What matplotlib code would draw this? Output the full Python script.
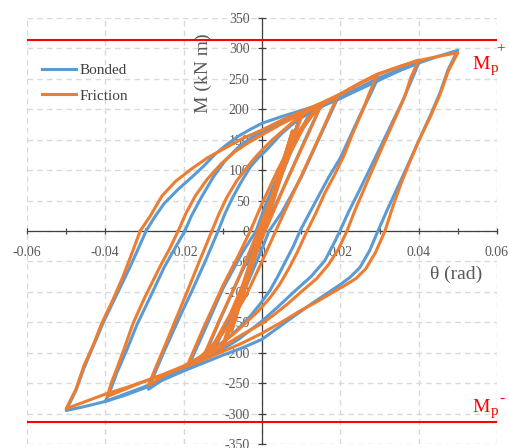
import matplotlib
matplotlib.use("Agg")
import matplotlib.pyplot as plt
from matplotlib.ticker import MultipleLocator, FuncFormatter

plt.rcParams['font.family'] = ['Liberation Serif', 'DejaVu Serif']
plt.rcParams['axes.unicode_minus'] = False

# ---------------- data (theta in rad, M in kN m) ----------------
series_names = ["Bonded", "Friction"]
series_colors = ["#5B9BD5", "#ED7D31"]
Mp_plus = 314
Mp_minus = -314

# Friction loops
F_050_t = [-0.0311, -0.0285, -0.0255, -0.0220, -0.0180, -0.0140, -0.0095, -0.0050, 0.0000, 0.0050,
           0.0100, 0.0150, 0.0200, 0.0250, 0.0300, 0.0350, 0.0400, 0.0450, 0.0500,
           0.0475, 0.0455, 0.0430, 0.0400, 0.0375, 0.0355, 0.0335, 0.0314, 0.0290, 0.0265,
           0.0240, 0.0210, 0.0175, 0.0135, 0.0095, 0.0060, 0.0030, 0.0000, -0.0050, -0.0100,
           -0.0150, -0.0200, -0.0250, -0.0300, -0.0350, -0.0400, -0.0450, -0.0500,
           -0.0475, -0.0455, -0.0430, -0.0410, -0.0380, -0.0355, -0.0333, -0.0311]
F_050_m = [0, 25, 58, 82, 102, 120, 136, 152, 166, 182,
           196, 210, 225, 243, 259, 270, 280, 287, 293,
           262, 225, 188, 148, 110, 78, 42, 0, -35, -62,
           -78, -90, -103, -118, -132, -146, -157, -168, -184, -198,
           -212, -224, -236, -247, -258, -268, -280, -292,
           -260, -222, -186, -153, -112, -75, -38, 0]
F_040_t = [-0.0214, -0.0195, -0.0170, -0.0140, -0.0105, -0.0070, -0.0035, 0.0000,
           0.0050, 0.0100, 0.0150, 0.0200, 0.0250, 0.0300, 0.0350, 0.0400,
           0.0380, 0.0365, 0.0340, 0.0310, 0.0285, 0.0260, 0.0238, 0.0217, 0.0195, 0.0170, 0.0140,
           0.0100, 0.0065, 0.0030, 0.0000, -0.0050, -0.0120, -0.0200, -0.0250, -0.0300, -0.0350, -0.0395,
           -0.0385, -0.0370, -0.0350, -0.0330, -0.0300, -0.0260, -0.0235, -0.0214]
F_040_m = [0, 28, 58, 85, 110, 130, 145, 158,
           176, 192, 208, 224, 242, 258, 270, 281,
           252, 222, 185, 142, 105, 68, 35, 0, -30, -55, -78,
           -100, -120, -138, -152, -170, -197, -222, -235, -247, -260, -272,
           -250, -225, -190, -153, -110, -58, -28, 0]
F_030_t = [-0.0128, -0.0110, -0.0090, -0.0065, -0.0040, -0.0020, 0.0000, 0.0025, 0.0050, 0.0075,
           0.0100, 0.0150, 0.0200, 0.0250, 0.0295,
           0.0275, 0.0255, 0.0230, 0.0210, 0.0185, 0.0160, 0.0138, 0.0115, 0.0090, 0.0070,
           0.0045, 0.0020, -0.0010, -0.0040, -0.0070, -0.0100, -0.0150, -0.0200, -0.0250, -0.0290,
           -0.0270, -0.0250, -0.0220, -0.0190, -0.0160, -0.0128]
F_030_m = [0, 28, 55, 82, 103, 119, 133, 149, 163, 177,
           190, 208, 225, 243, 258,
           228, 195, 158, 125, 92, 62, 30, 0, -35, -60,
           -88, -110, -132, -150, -168, -183, -204, -222, -238, -254,
           -222, -192, -145, -98, -50, 0]
F_020_t = [-0.0030, 0.0000, 0.0040, 0.0080, 0.0120, 0.0160, 0.0193,
           0.0150, 0.0100, 0.0060, 0.0035, 0.0000, -0.0040, -0.0080, -0.0120, -0.0160, -0.0190,
           -0.0150, -0.0100, -0.0060, -0.0030]
F_020_m = [0, 45, 100, 150, 188, 210, 222,
           160, 90, 35, 0, -50, -105, -150, -185, -208, -220,
           -160, -90, -40, 0]
F_015_t = [-0.0010, 0.0030, 0.0070, 0.0110, 0.0153,
           0.0110, 0.0060, 0.0008, -0.0040, -0.0080, -0.0120, -0.0150,
           -0.0110, -0.0060, -0.0010]
F_015_m = [0, 65, 125, 175, 210,
           148, 78, 0, -75, -135, -182, -207,
           -148, -78, 0]
F_010_t = [-0.0005, 0.0040, 0.0080, 0.0105, 0.0070, 0.0005, -0.0040, -0.0080, -0.0105, -0.0070, -0.0005]
F_010_m = [0, 82, 155, 196, 132, 0, -85, -160, -196, -130, 0]
F_0075_t = [-0.0003, 0.0040, 0.0078, 0.0003, -0.0040, -0.0078, -0.0003]
F_0075_m = [0, 88, 165, 0, -86, -165, 0]
F_005_t = [-0.0001, 0.0053, 0.0001, -0.0052, -0.0001]
F_005_m = [0, 115, 0, -112, 0]

# Bonded loops
B_050_t = [-0.0296, -0.0275, -0.0250, -0.0215, -0.0180, -0.0150, -0.0120, -0.0090, -0.0060, -0.0030,
           0.0000, 0.0050, 0.0100, 0.0150, 0.0200, 0.0250, 0.0300, 0.0350, 0.0400, 0.0450, 0.0500,
           0.0475, 0.0455, 0.0430, 0.0400, 0.0375, 0.0345, 0.0320, 0.0296, 0.0275, 0.0250,
           0.0225, 0.0200, 0.0165, 0.0130, 0.0095, 0.0060, 0.0030, 0.0000, -0.0050, -0.0100,
           -0.0150, -0.0200, -0.0250, -0.0300, -0.0350, -0.0400, -0.0450, -0.0500,
           -0.0475, -0.0455, -0.0430, -0.0405, -0.0375, -0.0345, -0.0320, -0.0296]
B_050_m = [0, 22, 45, 68, 88, 106, 126, 142, 156, 167,
           177, 188, 198, 208, 220, 236, 252, 265, 276, 287, 297,
           265, 228, 190, 148, 112, 70, 35, 0, -32, -60,
           -76, -88, -103, -118, -134, -150, -164, -178, -192, -204,
           -217, -230, -244, -258, -270, -280, -288, -295,
           -262, -226, -188, -150, -110, -70, -35, 0]
B_040_t = [-0.0197, -0.0180, -0.0155, -0.0125, -0.0095, -0.0060, -0.0030, 0.0000,
           0.0050, 0.0100, 0.0150, 0.0200, 0.0250, 0.0300, 0.0350, 0.0400,
           0.0380, 0.0360, 0.0330, 0.0300, 0.0270, 0.0245, 0.0220, 0.0199, 0.0180, 0.0160, 0.0125,
           0.0085, 0.0040, 0.0000, -0.0060, -0.0120, -0.0200, -0.0250, -0.0300, -0.0350, -0.0400,
           -0.0385, -0.0370, -0.0345, -0.0320, -0.0285, -0.0250, -0.0222, -0.0197]
B_040_m = [0, 25, 55, 88, 115, 138, 152, 163,
           180, 193, 206, 218, 233, 248, 263, 276,
           245, 215, 175, 135, 95, 62, 30, 0, -25, -49, -75,
           -98, -125, -148, -178, -202, -228, -242, -256, -268, -280,
           -258, -232, -195, -155, -108, -60, -28, 0]
B_030_t = [-0.0112, -0.0095, -0.0075, -0.0050, -0.0030, -0.0010, 0.0010, 0.0030, 0.0050, 0.0075,
           0.0100, 0.0150, 0.0200, 0.0250, 0.0295,
           0.0275, 0.0250, 0.0225, 0.0200, 0.0170, 0.0145, 0.0120, 0.0097, 0.0080, 0.0060,
           0.0040, 0.0020, -0.0005, -0.0030, -0.0060, -0.0090, -0.0150, -0.0200, -0.0250, -0.0290,
           -0.0270, -0.0250, -0.0215, -0.0180, -0.0145, -0.0112]
B_030_m = [0, 28, 55, 84, 105, 120, 132, 146, 160, 174,
           186, 204, 218, 235, 250,
           222, 190, 155, 120, 88, 58, 28, 0, -25, -50,
           -75, -98, -120, -140, -160, -178, -205, -225, -243, -260,
           -228, -198, -148, -100, -50, 0]
B_020_t = [-0.0015, 0.0010, 0.0050, 0.0090, 0.0130, 0.0160, 0.0193,
           0.0150, 0.0100, 0.0050, 0.0018, -0.0010, -0.0050, -0.0090, -0.0130, -0.0165, -0.0190,
           -0.0150, -0.0100, -0.0050, -0.0015]
B_020_m = [0, 45, 105, 155, 192, 208, 218,
           158, 88, 30, 0, -45, -105, -155, -192, -213, -225,
           -168, -95, -35, 0]
B_015_t = [0.0000, 0.0040, 0.0080, 0.0115, 0.0153,
           0.0110, 0.0060, 0.0004, -0.0040, -0.0080, -0.0115, -0.0150,
           -0.0110, -0.0060, 0.0000]
B_015_m = [0, 75, 140, 185, 210,
           150, 78, 0, -75, -140, -185, -210,
           -150, -78, 0]
B_010_t = [0.0003, 0.0050, 0.0102, 0.0065, 0.0006, -0.0050, -0.0102, -0.0065, 0.0003]
B_010_m = [0, 98, 196, 128, 0, -100, -196, -126, 0]
B_0075_t = [0.0002, 0.0040, 0.0077, 0.0004, -0.0040, -0.0077, 0.0002]
B_0075_m = [0, 84, 162, 0, -86, -162, 0]
B_005_t = [0.0001, 0.0052, 0.0003, -0.0051, 0.0001]
B_005_m = [0, 112, 0, -110, 0]

bonded_loops = [(B_005_t, B_005_m), (B_0075_t, B_0075_m), (B_010_t, B_010_m), (B_015_t, B_015_m),
                (B_020_t, B_020_m), (B_030_t, B_030_m), (B_040_t, B_040_m), (B_050_t, B_050_m)]
friction_loops = [(F_005_t, F_005_m), (F_0075_t, F_0075_m), (F_010_t, F_010_m), (F_015_t, F_015_m),
                  (F_020_t, F_020_m), (F_030_t, F_030_m), (F_040_t, F_040_m), (F_050_t, F_050_m)]

x_ticks = [-0.06, -0.04, -0.02, 0, 0.02, 0.04, 0.06]
y_ticks = list(range(-350, 351, 50))

# ---------------- figure ----------------
fig = plt.figure(figsize=(5.1, 4.48), dpi=100)
ax = fig.add_axes([27/510, 4/448, 470/510, 426/448])
ax.set_xlim(-0.06, 0.06)
ax.set_ylim(-350, 350)

for s, (loops, col, name) in enumerate(zip([bonded_loops, friction_loops], series_colors, series_names)):
    for i, (t, m) in enumerate(loops):
        ax.plot(t, m, color=col, lw=2.2, solid_joinstyle='round', zorder=3 + s,
                label=name if i == 0 else None)

ax.axhline(Mp_plus, color='#FF0000', lw=1.5, zorder=5)
ax.axhline(Mp_minus, color='#FF0000', lw=1.5, zorder=5)

# axes through the origin
for sp in ['top', 'right']:
    ax.spines[sp].set_visible(False)
ax.spines['left'].set_position(('data', 0))
ax.spines['bottom'].set_position(('data', 0))
for sp in ['left', 'bottom']:
    ax.spines[sp].set_color('#404040')
    ax.spines[sp].set_linewidth(0.9)

ax.set_xticks(x_ticks)
ax.xaxis.set_minor_locator(MultipleLocator(0.01))
ax.set_yticks(y_ticks)
ax.xaxis.set_major_formatter(FuncFormatter(lambda v, p: "0" if abs(v) < 1e-9 else f"{v:.2f}"))
ax.yaxis.set_major_formatter(FuncFormatter(lambda v, p: f"{int(round(v))}"))
ax.tick_params(axis='x', which='both', direction='inout', length=5, width=0.9, color='#404040',
               labelsize=10, labelcolor='#595959', pad=8)
ax.tick_params(axis='y', which='major', direction='inout', length=6, width=0.9, color='#404040',
               labelsize=10, labelcolor='#595959', pad=6)

ax.grid(True, which='major', linestyle=(0, (4, 3)), color='#d9d9d9', linewidth=1.0)
ax.set_axisbelow(True)

ax.text(-0.0151, 259, "M (kN m)", rotation=90, ha='center', va='center', fontsize=14, color='#595959')
ax.text(0.0495, -71, "θ (rad)", ha='center', va='center', fontsize=14, color='#595959')

# Mp labels composed of main letter, subscript and superscript
red = '#FF0000'
ax.text(0.0536, 267, "M", ha='left', va='baseline', fontsize=14, color=red)
ax.text(0.0583, 262, "p", ha='left', va='baseline', fontsize=11, color=red)
ax.text(0.0610, 299, "+", ha='center', va='center', fontsize=11, color=red)
ax.text(0.0536, -297, "M", ha='left', va='baseline', fontsize=14, color=red)
ax.text(0.0583, -302, "p", ha='left', va='baseline', fontsize=11, color=red)
ax.text(0.0613, -276, "-", ha='center', va='center', fontsize=11, color=red)

leg = ax.legend(loc='upper left', bbox_to_anchor=(0.032, 0.893), frameon=False, fontsize=11,
                handlelength=2.2, handletextpad=0.25, labelspacing=0.77, borderpad=0, borderaxespad=0)
for txt in leg.get_texts():
    txt.set_color('#404040')

fig.savefig("out.png", dpi=100)
